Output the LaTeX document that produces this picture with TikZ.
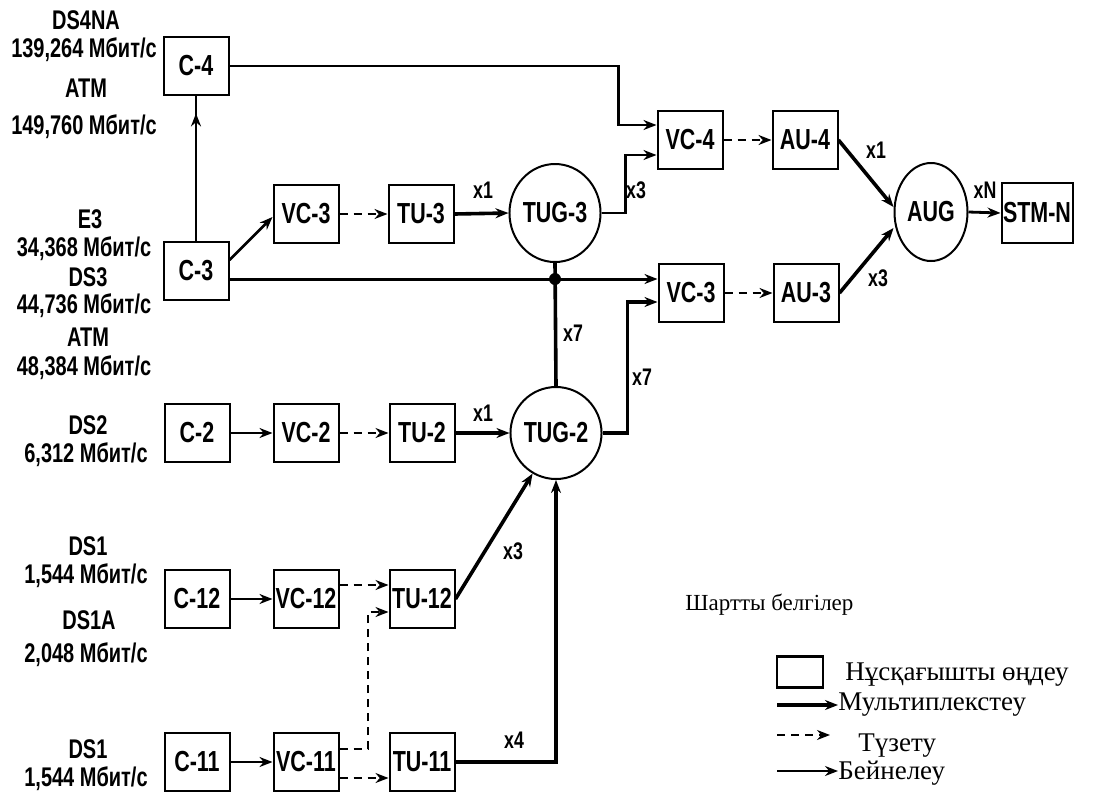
\documentclass[tikz,border=0pt]{standalone}
\usepackage{fontspec}
\setmainfont{Liberation Serif}
\newfontfamily\diagfont[FakeStretch=0.74]{Liberation Sans}
\usetikzlibrary{arrows.meta,shapes.geometric,decorations.markings}

\begin{document}
\begin{tikzpicture}[x=0.5pt, y=-0.5pt,
  proc/.style={draw=black, line width=1pt, minimum width=32.5pt, minimum height=29pt, inner sep=0pt, font=\diagfont\bfseries\fontsize{14.5}{16}\selectfont},
  tug/.style={draw=black, ellipse, line width=1pt, minimum width=39pt, minimum height=49pt, inner sep=0pt, font=\diagfont\bfseries\fontsize{14.5}{16}\selectfont},
  rate/.style={font=\diagfont\bfseries\fontsize{13.5}{15}\selectfont, inner sep=0pt},
  mult/.style={font=\diagfont\bfseries\fontsize{12}{14}\selectfont, inner sep=0pt},
  mux/.style={draw=black, line width=1.8pt, -{Stealth[length=6.5pt,width=5pt]}},
  mapping/.style={draw=black, line width=1.1pt, -{Stealth[length=6.5pt,width=5pt]}},
  adjust/.style={draw=black, line width=1pt, dash pattern=on 4pt off 3pt, -{Stealth[length=6.5pt,width=5pt]}},
  legend/.style={font=\fontsize{13.5}{15}\selectfont, inner sep=0pt},
]
  \useasboundingbox (0,0) rectangle (1103,794);

  \node[rate] (ds4na) at (86,20) {DS4NA};
  \node[rate] (r139) at (84,50) {139,264 Мбит/с};
  \node[rate] (atma) at (86,88) {ATM};
  \node[rate] (r149) at (84,127) {149,760 Мбит/с};
  \node[rate] (e3) at (90,219) {E3};
  \node[rate] (r34) at (84,249) {34,368 Мбит/с};
  \node[rate] (ds3) at (88,277) {DS3};
  \node[rate] (r44) at (84,306) {44,736 Мбит/с};
  \node[rate] (atmb) at (88,337) {ATM};
  \node[rate] (r48) at (84,368) {48,384 Мбит/с};
  \node[rate] (ds2) at (88,425) {DS2};
  \node[rate] (r6) at (86,455) {6,312 Мбит/с};
  \node[rate] (ds1a) at (88,546) {DS1};
  \node[rate] (r1a) at (86,576) {1,544 Мбит/с};
  \node[rate] (ds1aa) at (89,620) {DS1A};
  \node[rate] (r2) at (86,655) {2,048 Мбит/с};
  \node[rate] (ds1b) at (88,749) {DS1};
  \node[rate] (r1b) at (86,779) {1,544 Мбит/с};

  \node[proc] (c4) at (196,66) {C-4};
  \node[proc] (c3) at (196,271) {C-3};
  \node[proc] (vc3a) at (306,214) {VC-3};
  \node[proc] (tu3) at (421,214) {TU-3};
  \node[tug] (tug3) at (555,213) {TUG-3};
  \node[proc] (vc4) at (690,140) {VC-4};
  \node[proc] (au4) at (805,140) {AU-4};
  \node[proc] (vc3b) at (691,293) {VC-3};
  \node[proc] (au3) at (806,293) {AU-3};
  \node[tug, minimum width=36.5pt] (aug) at (931,212) {AUG};
  \node[proc, minimum width=35.5pt, minimum height=30pt] (stmn) at (1037,213) {STM-N};
  \node[proc] (c2) at (197,433) {C-2};
  \node[proc] (vc2) at (306,433) {VC-2};
  \node[proc] (tu2) at (422,433) {TU-2};
  \node[tug, minimum height=46pt] (tug2) at (556,433) {TUG-2};
  \node[proc] (c12) at (197,599) {C-12};
  \node[proc] (vc12) at (306,599) {VC-12};
  \node[proc] (tu12) at (422,599) {TU-12};
  \node[proc] (c11) at (197,762) {C-11};
  \node[proc] (vc11) at (306,762) {VC-11};
  \node[proc] (tu11) at (422,762) {TU-11};

  \coordinate (bus) at (555,279);

  \draw[mapping] (c4.east) -- ++(389,0) |- ([yshift=7.5pt]vc4.west);
  \draw[mapping, -, postaction={decorate, decoration={markings, mark=at position 0.88 with {\arrow{Stealth[length=6.5pt,width=5pt]}}}}] (c3.north) -- (c4.south);
  \draw[mapping, line width=1.4pt] ([yshift=5.5pt]c3.east) -- ([yshift=-1.5pt]vc3a.west);
  \draw[mux, line width=1.5pt] (bus -| c3.east) -- (bus -| vc3b.west);
  \fill (bus) circle (3pt);
  \draw[adjust] (vc3a.east) -- (tu3.west);
  \draw[mux] (tu3.east) -- (tug3.west);
  \draw[mapping, line width=1.3pt] (tug3.east) -- ++(24,0) |- ([yshift=-7.5pt]vc4.west);
  \draw[mux, -] (tug2.north) -- (tug3.south);
  \draw[mux] (tug2.east) -- ++(25,0) |- ([yshift=-4.5pt]vc3b.west);
  \draw[adjust] (vc4.east) -- (au4.west);
  \draw[adjust] (vc3b.east) -- (au3.west);
  \draw[mux] (au4.east) -- ([yshift=2.5pt]aug.west);
  \draw[mux] (au3.east) -- ([yshift=-8pt]aug.west);
  \draw[mapping, line width=1.4pt] (aug.east) -- (stmn.west);

  \draw[mapping] (c2.east) -- (vc2.west);
  \draw[adjust] (vc2.east) -- (tu2.west);
  \draw[mux] (tu2.east) -- (tug2.west);
  \draw[mapping] (c12.east) -- (vc12.west);
  \draw[adjust] ([yshift=7pt]vc12.east) -- ([yshift=7pt]tu12.west);
  \draw[adjust] ([yshift=6.5pt]vc11.east) -- ++(28,0) |- ([yshift=-6.5pt]tu12.west);
  \draw[mapping] (c11.east) -- (vc11.west);
  \draw[adjust] ([yshift=-8pt]vc11.east) -- ([yshift=-8pt]tu11.west);
  \draw[mux] (tu12.east) -- (tug2.240);
  \draw[mux, line width=2.1pt] (tu11.east) -| (tug2.south);

  \node[mult] (m1a) at (483,190) {x1};
  \node[mult] (m3a) at (636,190) {x3};
  \node[mult] (m7a) at (573,333) {x7};
  \node[mult] (m7b) at (642,377) {x7};
  \node[mult] (m1b) at (483,413) {x1};
  \node[mult] (m3b) at (513,551) {x3};
  \node[mult] (m4) at (514,740) {x4};
  \node[mult] (m1c) at (876,150) {x1};
  \node[mult] (m3c) at (878,278) {x3};
  \node[mult] (mn) at (985,190) {xN};

  \node[anchor=west, inner sep=0pt, font=\fontsize{11.5}{13}\selectfont] (lghead) at (685,605) {Шартты белгілер};
  \node[draw=black, line width=1.2pt, minimum width=23pt, minimum height=15.5pt, inner sep=0pt] (lgbox) at (800,672) {};
  \node[legend, anchor=west] (lgproc) at (845,675) {Нұсқағышты өңдеу};
  \node[legend, anchor=west] (lgmux) at (838,705) {Мультиплекстеу};
  \node[legend, anchor=west] (lgadj) at (858,746) {Түзету};
  \node[legend, anchor=west] (lgmap) at (838,773) {Бейнелеу};
  \coordinate (lm1) at (777,705);
  \coordinate (lm2) at (777,735);
  \coordinate (lm3) at (830,735);
  \coordinate (lm4) at (777,771);
  \draw[mux] (lm1) -- (lgmux.west |- lm1);
  \draw[adjust] (lm2) -- (lm3);
  \draw[mapping, line width=0.9pt] (lm4) -- (lgmap.west |- lm4);
\end{tikzpicture}
\end{document}
